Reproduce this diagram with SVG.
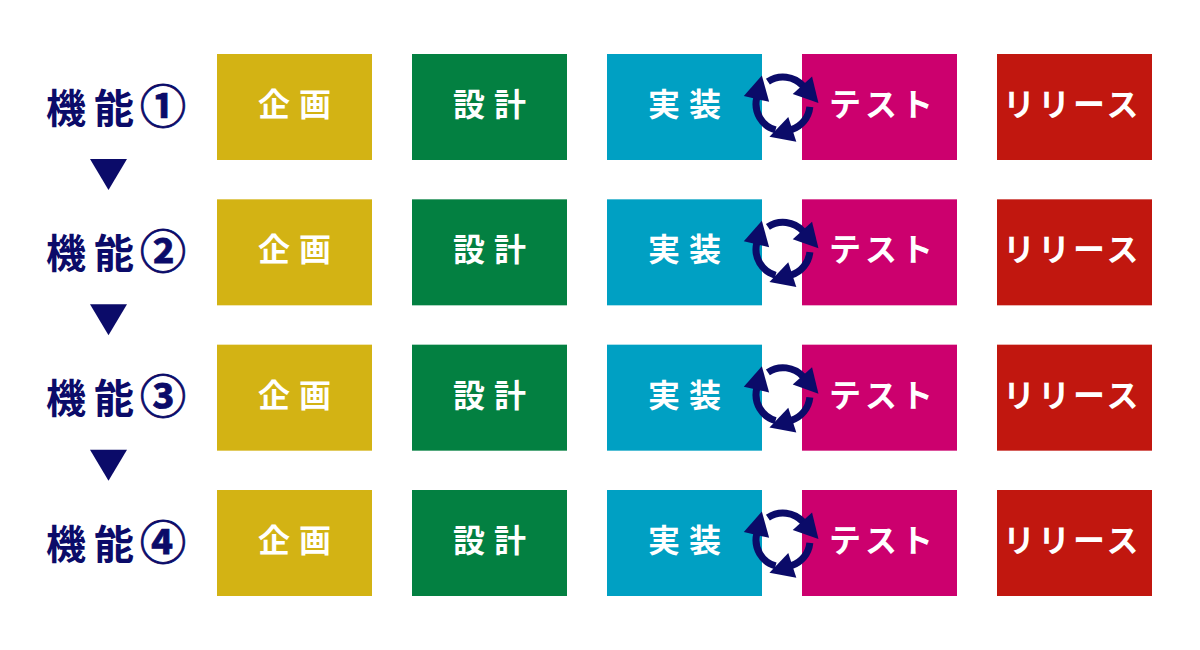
<svg xmlns="http://www.w3.org/2000/svg" xmlns:xlink="http://www.w3.org/1999/xlink" width="1200" height="650" viewBox="0 0 1200 650">
<style>
.lbl{font-family:"Noto Sans CJK JP","Noto Sans CJK SC",sans-serif;font-weight:700;font-size:32px;fill:#ffffff}
.ttl{font-family:"Noto Sans CJK JP","Noto Sans CJK SC",sans-serif;font-weight:700;font-size:40px;fill:#0B0B69;letter-spacing:8px}
.num{font-size:46px;letter-spacing:0px;stroke:#0B0B69;stroke-width:0.8}
.k{fill:#D3B314}.s{fill:#038041}.j{fill:#00A0C3}.t{fill:#CC006E}.r{fill:#C1170F}
.arc{fill:none;stroke:#0B0B69;stroke-width:7;marker-end:url(#ah)}
.tri{fill:#0B0B69}
</style>
<defs>
<marker id="ah" markerUnits="userSpaceOnUse" viewBox="-2 -15 28 30" markerWidth="28" markerHeight="30" refX="0" refY="0" orient="auto">
<path d="M-1,-13 L23,0 L-1,13 Z" fill="#0B0B69"/>
</marker>
<g id="cycle">
<path class="arc" d="M26.85,2.82 A27,27 0 0 1 8.34,25.68"/>
<path class="arc" d="M-7.44,25.95 A27,27 0 0 1 -26.31,-6.07"/>
<path class="arc" d="M-15.10,-22.38 A27,27 0 0 1 20.06,-18.07"/>
</g>
</defs>
<rect width="1200" height="650" fill="#ffffff"/>

<g id="row1">
<g id="title1"><text class="ttl" x="46" y="122.7">機能<tspan class="num" dx="-2">①</tspan></text></g>
<g id="plan1" transform="translate(217,54)"><rect class="k" width="155" height="106"/><text class="lbl" x="41" y="62" letter-spacing="9">企画</text></g>
<g id="design1" transform="translate(412,54)"><rect class="s" width="155" height="106"/><text class="lbl" x="41" y="62" letter-spacing="9">設計</text></g>
<g id="impl1" transform="translate(607,54)"><rect class="j" width="155" height="106"/><text class="lbl" x="41" y="62" letter-spacing="9">実装</text></g>
<g id="test1" transform="translate(802,54)"><rect class="t" width="155" height="106"/><text class="lbl" x="27" y="62" letter-spacing="4">テスト</text></g>
<g id="release1" transform="translate(997,54)"><rect class="r" width="155" height="106"/><text class="lbl" x="6" y="62" letter-spacing="3">リリース</text></g>
</g>

<g id="row2">
<g id="title2"><text class="ttl" x="46" y="268">機能<tspan class="num" dx="-2">②</tspan></text></g>
<g id="plan2" transform="translate(217,199.33)"><rect class="k" width="155" height="106"/><text class="lbl" x="41" y="62" letter-spacing="9">企画</text></g>
<g id="design2" transform="translate(412,199.33)"><rect class="s" width="155" height="106"/><text class="lbl" x="41" y="62" letter-spacing="9">設計</text></g>
<g id="impl2" transform="translate(607,199.33)"><rect class="j" width="155" height="106"/><text class="lbl" x="41" y="62" letter-spacing="9">実装</text></g>
<g id="test2" transform="translate(802,199.33)"><rect class="t" width="155" height="106"/><text class="lbl" x="27" y="62" letter-spacing="4">テスト</text></g>
<g id="release2" transform="translate(997,199.33)"><rect class="r" width="155" height="106"/><text class="lbl" x="6" y="62" letter-spacing="3">リリース</text></g>
</g>

<g id="row3">
<g id="title3"><text class="ttl" x="46" y="413.4">機能<tspan class="num" dx="-2">③</tspan></text></g>
<g id="plan3" transform="translate(217,344.67)"><rect class="k" width="155" height="106"/><text class="lbl" x="41" y="62" letter-spacing="9">企画</text></g>
<g id="design3" transform="translate(412,344.67)"><rect class="s" width="155" height="106"/><text class="lbl" x="41" y="62" letter-spacing="9">設計</text></g>
<g id="impl3" transform="translate(607,344.67)"><rect class="j" width="155" height="106"/><text class="lbl" x="41" y="62" letter-spacing="9">実装</text></g>
<g id="test3" transform="translate(802,344.67)"><rect class="t" width="155" height="106"/><text class="lbl" x="27" y="62" letter-spacing="4">テスト</text></g>
<g id="release3" transform="translate(997,344.67)"><rect class="r" width="155" height="106"/><text class="lbl" x="6" y="62" letter-spacing="3">リリース</text></g>
</g>

<g id="row4">
<g id="title4"><text class="ttl" x="46" y="558.7">機能<tspan class="num" dx="-2">④</tspan></text></g>
<g id="plan4" transform="translate(217,490)"><rect class="k" width="155" height="106"/><text class="lbl" x="41" y="62" letter-spacing="9">企画</text></g>
<g id="design4" transform="translate(412,490)"><rect class="s" width="155" height="106"/><text class="lbl" x="41" y="62" letter-spacing="9">設計</text></g>
<g id="impl4" transform="translate(607,490)"><rect class="j" width="155" height="106"/><text class="lbl" x="41" y="62" letter-spacing="9">実装</text></g>
<g id="test4" transform="translate(802,490)"><rect class="t" width="155" height="106"/><text class="lbl" x="27" y="62" letter-spacing="4">テスト</text></g>
<g id="release4" transform="translate(997,490)"><rect class="r" width="155" height="106"/><text class="lbl" x="6" y="62" letter-spacing="3">リリース</text></g>
</g>

<g id="connectors">
<polygon class="tri" points="90,159 127,159 108.5,190"/>
<polygon class="tri" points="90,304.33 127,304.33 108.5,335.33"/>
<polygon class="tri" points="90,449.67 127,449.67 108.5,480.67"/>
<use xlink:href="#cycle" href="#cycle" transform="translate(783,104)"/>
<use xlink:href="#cycle" href="#cycle" transform="translate(783,249.33)"/>
<use xlink:href="#cycle" href="#cycle" transform="translate(783,394.67)"/>
<use xlink:href="#cycle" href="#cycle" transform="translate(783,540)"/>
</g>
</svg>
